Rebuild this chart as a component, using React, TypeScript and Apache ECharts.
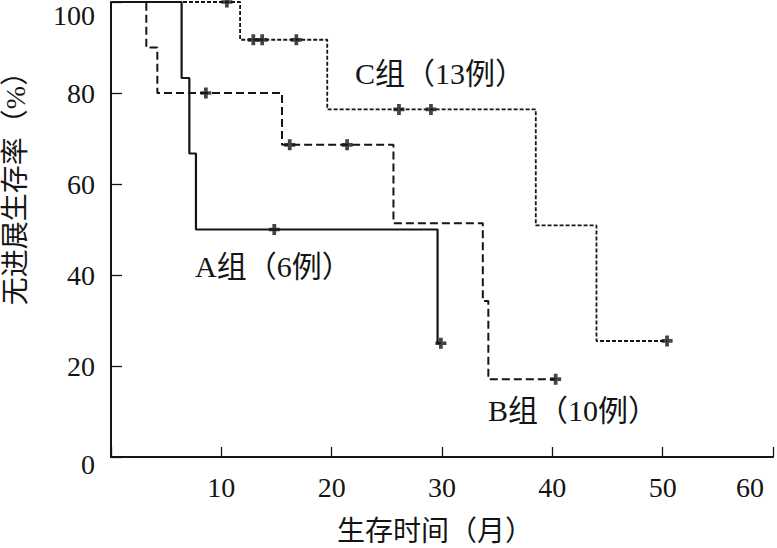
import React, { useEffect, useRef } from "react";
import * as echarts from "echarts";

// Group A (solid): step points (time in months, PFS %)
const timeA = [0, 6.4, 7.1, 7.7, 29.6, 29.9];
const survA = [100, 83.3, 66.7, 50, 25, 25];
const censorTimeA = [14.8, 29.9];
const censorSurvA = [50, 25];

// Group B (dashed)
const timeB = [0, 3.2, 4.2, 15.5, 25.6, 33.7, 34.2, 40.3];
const survB = [100, 90, 80, 68.6, 51.4, 34.3, 17.1, 17.1];
const censorTimeB = [8.6, 16.2, 21.4, 40.3];
const censorSurvB = [80, 68.6, 68.6, 17.1];

// Group C (short dashes)
const timeC = [0, 11.7, 19.6, 38.5, 44.0, 50.4];
const survC = [100, 91.7, 76.4, 50.9, 25.5, 25.5];
const censorTimeC = [10.5, 12.9, 13.7, 16.8, 26.1, 29.0, 50.4];
const censorSurvC = [100, 91.7, 91.7, 91.7, 76.4, 76.4, 25.5];

const groupLabels = ["A组（6例）", "B组（10例）", "C组（13例）"];
const xTicks = [10, 20, 30, 40, 50, 60];
const yTicks = [0, 20, 40, 60, 80, 100];
const xTitle = "生存时间（月）";
const yTitle = "无进展生存率（%）";

const FONT = '"Liberation Serif", "Times New Roman", "Noto Sans CJK SC", serif';
const CJK = '"Liberation Serif", "Noto Sans CJK SC", serif';
const INK = "#151515";
const PLUS = "path://M3.3,0H6.7V3.3H10V6.7H6.7V10H3.3V6.7H0V3.3H3.3Z";
const TICK_FS = 28;
const TITLE_FS = 28;
const GROUP_FS = 30;

const zip = (a: number[], b: number[]) => a.map((v, i) => [v, b[i]]);

export default function App() {
  const ref = useRef<HTMLDivElement>(null);
  useEffect(() => {
    if (!ref.current) return;
    const chart = echarts.init(ref.current, null, { renderer: "svg" });
    const lineSeries = (data: number[][], type: any, width: number) => ({
      type: "line",
      data,
      step: "end",
      symbol: "none",
      clip: false,
      lineStyle: { color: INK, width, type },
      z: 2,
    });
    const censorSeries = (data: number[][]) => ({
      type: "scatter",
      data,
      symbol: PLUS,
      symbolSize: [11, 11],
      clip: false,
      itemStyle: { color: INK },
      z: 3,
    });
    chart.setOption({
      animation: false,
      backgroundColor: "#ffffff",
      grid: {
        left: 111,
        right: 4,
        top: 2,
        bottom: 91,
        containLabel: false,
        outerBoundsMode: "none",
      },
      xAxis: {
        type: "value",
        min: 0,
        max: 60,
        interval: 10,
        splitLine: { show: false },
        axisLine: { show: true, onZero: false, lineStyle: { color: INK, width: 2 } },
        axisTick: { show: true, inside: true, length: 10, lineStyle: { color: INK, width: 1.3 } },
        axisLabel: {
          margin: 16,
          fontFamily: FONT,
          fontSize: TICK_FS,
          color: INK,
          formatter: (v: number) =>
            xTicks.includes(v) ? (v === 60 ? "{r|" + v + "}" : String(v)) : "",
          rich: { r: { fontFamily: FONT, fontSize: TICK_FS, color: INK, padding: [0, 46, 0, 0] } },
        },
        name: xTitle,
        nameLocation: "middle",
        nameGap: 60,
        nameTextStyle: { fontFamily: CJK, fontSize: TITLE_FS, color: INK, padding: [0, 14, 0, 0] },
      },
      yAxis: {
        type: "value",
        min: 0,
        max: 100,
        interval: 20,
        splitLine: { show: false },
        axisLine: { show: true, lineStyle: { color: INK, width: 2 } },
        axisTick: { show: true, inside: true, length: 11, lineStyle: { color: INK, width: 1.3 } },
        axisLabel: {
          margin: 16,
          fontFamily: FONT,
          fontSize: TICK_FS,
          color: INK,
          formatter: (v: number) => {
            if (!yTicks.includes(v)) return "";
            if (v === 100) return "{t|100}";
            if (v === 0) return "{z|0}";
            return String(v);
          },
          rich: {
            t: { fontFamily: FONT, fontSize: TICK_FS, color: INK, padding: [26, 0, 0, 0] },
            z: { fontFamily: FONT, fontSize: TICK_FS, color: INK, padding: [14, 0, 0, 0] },
          },
        },
        name: yTitle,
        nameLocation: "middle",
        nameGap: 82,
        nameRotate: 90,
        nameTextStyle: { fontFamily: CJK, fontSize: TITLE_FS, color: INK, padding: [0, 0, 0, 96] },
      },
      series: [
        lineSeries(zip(timeA, survA), "solid", 2.2),
        lineSeries(zip(timeB, survB), [8, 4], 2),
        lineSeries(zip(timeC, survC), [4, 2], 1.8),
        censorSeries(zip(censorTimeA, censorSurvA)),
        censorSeries(zip(censorTimeB, censorSurvB)),
        censorSeries(zip(censorTimeC, censorSurvC)),
      ],
      graphic: [
        { type: "text", left: 195, top: 251, style: { text: groupLabels[0], font: GROUP_FS + "px " + CJK, fill: INK } },
        { type: "text", left: 488, top: 395, style: { text: groupLabels[1], font: GROUP_FS + "px " + CJK, fill: INK } },
        { type: "text", left: 355, top: 58, style: { text: groupLabels[2], font: GROUP_FS + "px " + CJK, fill: INK } },
      ],
    });
    return () => chart.dispose();
  }, []);
  return (
    <div
      ref={ref}
      style={{ position: "fixed", left: 0, top: 0, width: 777, height: 548, background: "#fff" }}
    />
  );
}
